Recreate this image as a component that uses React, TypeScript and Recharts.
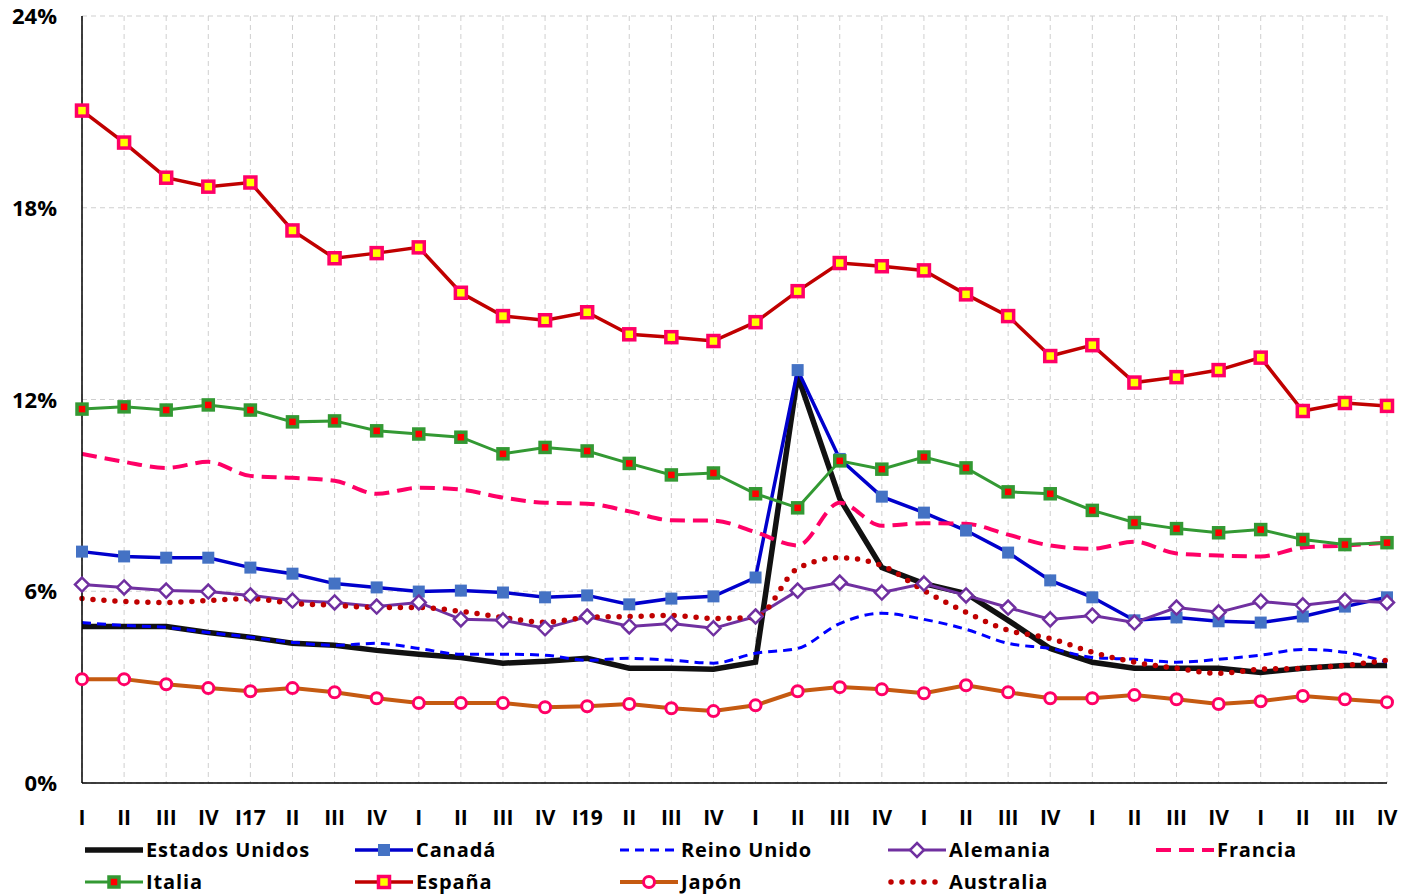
import { LineChart, Line, XAxis, YAxis, CartesianGrid, Legend } from 'recharts';

const periodos = [
  '16-I', '16-II', '16-III', '16-IV', '17-I', '17-II', '17-III', '17-IV',
  '18-I', '18-II', '18-III', '18-IV', '19-I', '19-II', '19-III', '19-IV',
  '20-I', '20-II', '20-III', '20-IV', '21-I', '21-II', '21-III', '21-IV',
  '22-I', '22-II', '22-III', '22-IV', '23-I', '23-II', '23-III', '23-IV',
];
const etiquetas = [
  'I', 'II', 'III', 'IV', 'I17', 'II', 'III', 'IV', 'I', 'II', 'III', 'IV', 'I19', 'II', 'III', 'IV',
  'I', 'II', 'III', 'IV', 'I', 'II', 'III', 'IV', 'I', 'II', 'III', 'IV', 'I', 'II', 'III', 'IV',
];
const yTicks = [0, 6, 12, 18, 24];

const estadosUnidos = [4.9, 4.9, 4.9, 4.71, 4.56, 4.37, 4.31, 4.15, 4.03, 3.93, 3.75, 3.81, 3.9, 3.59, 3.59, 3.56, 3.78, 12.75, 8.9, 6.74, 6.24, 5.93, 5.09, 4.21, 3.78, 3.59, 3.59, 3.59, 3.46, 3.59, 3.68, 3.68];
const canada = [7.24, 7.09, 7.05, 7.05, 6.74, 6.55, 6.24, 6.12, 5.99, 6.02, 5.96, 5.81, 5.87, 5.59, 5.77, 5.84, 6.43, 12.92, 10.14, 8.96, 8.46, 7.9, 7.21, 6.34, 5.81, 5.09, 5.18, 5.06, 5.02, 5.21, 5.52, 5.81];
const reinoUnido = [5.02, 4.93, 4.87, 4.71, 4.56, 4.4, 4.31, 4.37, 4.21, 4.03, 4.03, 4.0, 3.84, 3.9, 3.84, 3.75, 4.06, 4.21, 4.99, 5.31, 5.12, 4.81, 4.37, 4.21, 3.93, 3.87, 3.78, 3.87, 4.0, 4.18, 4.09, 3.78];
const alemania = [6.21, 6.12, 6.02, 5.99, 5.87, 5.71, 5.65, 5.52, 5.65, 5.12, 5.09, 4.84, 5.21, 4.9, 4.99, 4.84, 5.21, 6.02, 6.27, 5.96, 6.24, 5.87, 5.49, 5.12, 5.24, 5.02, 5.49, 5.34, 5.68, 5.56, 5.71, 5.65];
const francia = [10.3, 10.05, 9.86, 10.05, 9.61, 9.55, 9.46, 9.05, 9.24, 9.18, 8.93, 8.77, 8.74, 8.5, 8.22, 8.21, 7.85, 7.43, 8.77, 8.05, 8.13, 8.11, 7.77, 7.43, 7.33, 7.55, 7.18, 7.12, 7.09, 7.37, 7.43, 7.52];
const italia = [11.7, 11.77, 11.67, 11.83, 11.67, 11.3, 11.33, 11.02, 10.92, 10.82, 10.3, 10.5, 10.39, 10.0, 9.64, 9.7, 9.05, 8.61, 10.08, 9.82, 10.2, 9.86, 9.11, 9.05, 8.53, 8.15, 7.96, 7.83, 7.93, 7.62, 7.46, 7.52];
const espana = [21.04, 20.04, 18.94, 18.66, 18.79, 17.29, 16.42, 16.58, 16.76, 15.34, 14.61, 14.48, 14.73, 14.04, 13.95, 13.83, 14.42, 15.39, 16.27, 16.17, 16.04, 15.29, 14.61, 13.36, 13.7, 12.53, 12.7, 12.92, 13.31, 11.64, 11.89, 11.8];
const japon = [3.25, 3.25, 3.09, 2.97, 2.87, 2.97, 2.84, 2.65, 2.5, 2.5, 2.5, 2.37, 2.4, 2.47, 2.34, 2.25, 2.43, 2.87, 3.0, 2.93, 2.81, 3.06, 2.84, 2.65, 2.65, 2.75, 2.62, 2.47, 2.56, 2.72, 2.62, 2.53];
const australia = [5.77, 5.68, 5.65, 5.71, 5.77, 5.62, 5.56, 5.49, 5.49, 5.37, 5.18, 5.03, 5.18, 5.21, 5.24, 5.15, 5.18, 6.71, 7.05, 6.8, 6.02, 5.34, 4.78, 4.52, 4.09, 3.78, 3.59, 3.43, 3.56, 3.59, 3.68, 3.84];

const data = periodos.map((p, i) => ({
  periodo: p,
  eeuu: estadosUnidos[i],
  canada: canada[i],
  reino: reinoUnido[i],
  alemania: alemania[i],
  francia: francia[i],
  italia: italia[i],
  espana: espana[i],
  japon: japon[i],
  australia: australia[i],
}));

const FONT = '"Open Sans", "DejaVu Sans", sans-serif';

// marker shapes
function sq(size: number, fill: string, stroke?: string, sw = 0) {
  return (p: any) => {
    const { cx, cy, index } = p;
    if (cx == null || cy == null) return <g key={index} />;
    return (
      <rect
        key={index}
        x={cx - size / 2}
        y={cy - size / 2}
        width={size}
        height={size}
        fill={fill}
        stroke={stroke || 'none'}
        strokeWidth={sw}
      />
    );
  };
}

function diamond(p: any) {
  const { cx, cy, index } = p;
  if (cx == null || cy == null) return <g key={index} />;
  const r = 7;
  return (
    <path
      key={index}
      d={`M${cx},${cy - r}L${cx + r},${cy}L${cx},${cy + r}L${cx - r},${cy}Z`}
      fill="#fff"
      stroke="#7030A0"
      strokeWidth={2.5}
    />
  );
}

function circle(p: any) {
  const { cx, cy, index } = p;
  if (cx == null || cy == null) return <g key={index} />;
  return <circle key={index} cx={cx} cy={cy} r={5.5} fill="#fff" stroke="#FF0066" strokeWidth={3} />;
}

const series = [
  { key: 'eeuu', name: 'Estados Unidos', color: '#111111', width: 5.5, type: 'linear', dash: undefined, dot: null },
  { key: 'canada', name: 'Canadá', color: '#0000CC', width: 3.5, type: 'linear', dash: undefined, dot: sq(12, '#4472C4') },
  { key: 'reino', name: 'Reino Unido', color: '#0000FF', width: 3, type: 'monotone', dash: '9 6', dot: null },
  { key: 'alemania', name: 'Alemania', color: '#7030A0', width: 3, type: 'linear', dash: undefined, dot: diamond },
  { key: 'francia', name: 'Francia', color: '#FF0066', width: 4, type: 'monotone', dash: '15 8', dot: null },
  { key: 'italia', name: 'Italia', color: '#339933', width: 3, type: 'linear', dash: undefined, dot: sq(10, '#FF0000', '#339933', 3.5) },
  { key: 'espana', name: 'España', color: '#C00000', width: 3.5, type: 'linear', dash: undefined, dot: sq(11, '#FFFF00', '#FF0066', 3.5) },
  { key: 'japon', name: 'Japón', color: '#C55A11', width: 4, type: 'linear', dash: undefined, dot: circle },
  { key: 'australia', name: 'Australia', color: '#C00000', width: 5.5, type: 'monotone', dash: '0 11', dot: null },
];

const legendCols = [85, 355, 620, 888, 1156];

function LegendIcon({ s, x, y }: { s: (typeof series)[number]; x: number; y: number }) {
  const mid = x + 29;
  let marker = null;
  if (s.key === 'canada') marker = <rect x={mid - 6} y={y - 6} width={12} height={12} fill="#4472C4" />;
  if (s.key === 'italia') marker = <rect x={mid - 5} y={y - 5} width={10} height={10} fill="#FF0000" stroke="#339933" strokeWidth={3.5} />;
  if (s.key === 'espana') marker = <rect x={mid - 5.5} y={y - 5.5} width={11} height={11} fill="#FFFF00" stroke="#FF0066" strokeWidth={3.5} />;
  if (s.key === 'alemania') marker = <path d={`M${mid},${y - 7}L${mid + 7},${y}L${mid},${y + 7}L${mid - 7},${y}Z`} fill="#fff" stroke="#7030A0" strokeWidth={2.5} />;
  if (s.key === 'japon') marker = <circle cx={mid} cy={y} r={5.5} fill="#fff" stroke="#FF0066" strokeWidth={3} />;
  return (
    <g>
      <line
        x1={x + (s.key === 'australia' ? 3 : 0)}
        y1={y}
        x2={x + 58}
        y2={y}
        stroke={s.color}
        strokeWidth={s.width}
        strokeDasharray={s.dash}
        strokeLinecap={s.key === 'australia' ? 'round' : 'butt'}
      />
      {marker}
    </g>
  );
}

function renderLegend() {
  return (
    <svg width={1387} height={61} style={{ display: 'block' }}>
      {series.map((s, i) => {
        const x = legendCols[i % 5];
        const y = i < 5 ? 17 : 49;
        return (
          <g key={s.key}>
            <LegendIcon s={s} x={x} y={y} />
            <text x={x + 61} y={y + 7} fontFamily={FONT} fontWeight={700} fontSize={20} letterSpacing={0.9} fill="#000">
              {s.name}
            </text>
          </g>
        );
      })}
    </svg>
  );
}

function YTick(props: any) {
  const { x, y, payload } = props;
  return (
    <text x={x - 17} y={y + 8} textAnchor="end" fontFamily={FONT} fontWeight={700} fontSize={22} fill="#000">
      {payload.value}%
    </text>
  );
}

function XTick(props: any) {
  const { x, y, payload, index } = props;
  return (
    <text x={x} y={y + 34} textAnchor="middle" fontFamily={FONT} fontWeight={700} fontSize={21} fill="#000">
      {etiquetas[index] ?? payload.value}
    </text>
  );
}

export default function App() {
  return (
    <div style={{ position: 'absolute', left: 0, top: 0, background: '#fff' }}>
      <LineChart width={1418} height={894} data={data} margin={{ top: 16, right: 31, left: 0, bottom: 0 }}>
        <CartesianGrid stroke="#cfcfcf" strokeDasharray="5 4" horizontal vertical />
        <XAxis
          dataKey="periodo"
          interval={0}
          height={50}
          tickLine={false}
          axisLine={{ stroke: '#000', strokeWidth: 1.5 }}
          tick={<XTick />}
          padding={{ left: 0, right: 0 }}
        />
        <YAxis
          domain={[0, 24]}
          ticks={yTicks}
          width={82}
          tickLine={false}
          axisLine={{ stroke: '#000', strokeWidth: 1.5 }}
          tick={<YTick />}
        />
        <Legend verticalAlign="bottom" height={61} content={renderLegend} />
        {series.map((s) => (
          <Line
            key={s.key}
            dataKey={s.key}
            name={s.name}
            type={s.type as any}
            stroke={s.color}
            strokeWidth={s.width}
            strokeDasharray={s.dash}
            strokeLinecap={s.key === 'australia' ? 'round' : 'butt'}
            dot={s.dot ? (s.dot as any) : false}
            activeDot={false}
            isAnimationActive={false}
          />
        ))}
      </LineChart>
    </div>
  );
}
